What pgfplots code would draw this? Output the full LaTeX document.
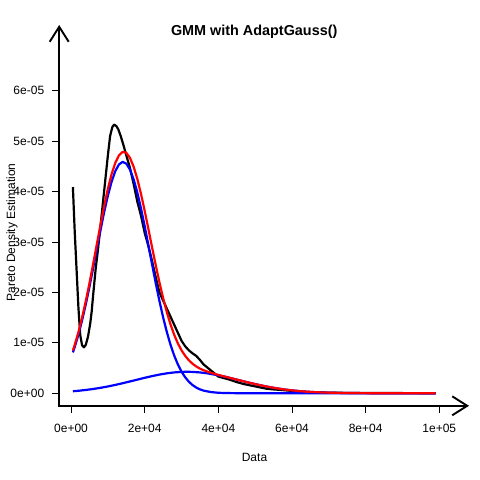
\documentclass[border=0pt]{standalone}
\usepackage{fontspec}
\setmainfont{Liberation Sans}
\usepackage{pgfplots}
\pgfplotsset{compat=1.18}
\usepackage{pgfplotstable}
\usetikzlibrary{arrows.meta}

% empirical Pareto density (black)
\pgfplotstableread{
x y
500 4.09e-5
1000 3.20e-5
1500 2.45e-5
2000 1.70e-5
2500 1.15e-5
3000 0.95e-5
3500 0.91e-5
4000 0.96e-5
4600 1.12e-5
5200 1.38e-5
5600 1.62e-5
6000 1.95e-5
6700 2.48e-5
7200 2.78e-5
8000 3.32e-5
9000 4.02e-5
10000 4.72e-5
10600 5.10e-5
11200 5.28e-5
11700 5.33e-5
12300 5.30e-5
12800 5.24e-5
13500 5.10e-5
14200 4.93e-5
15000 4.72e-5
16000 4.47e-5
17000 4.15e-5
18000 3.80e-5
19000 3.52e-5
20000 3.18e-5
21000 2.92e-5
22000 2.62e-5
23000 2.30e-5
24000 2.00e-5
25000 1.84e-5
26000 1.68e-5
27000 1.52e-5
28000 1.36e-5
29000 1.20e-5
30000 1.04e-5
31000 0.93e-5
32000 0.85e-5
33000 0.79e-5
34000 0.74e-5
35000 0.66e-5
36000 0.57e-5
37000 0.51e-5
38000 0.45e-5
39000 0.39e-5
40000 0.33e-5
41500 0.30e-5
43000 0.27e-5
45000 0.22e-5
47000 0.18e-5
49000 0.15e-5
51000 0.12e-5
53000 0.09e-5
55000 0.075e-5
57000 0.065e-5
60000 0.045e-5
63000 0.025e-5
66000 0.015e-5
70000 0.010e-5
75000 0.006e-5
80000 0.004e-5
90000 0.002e-5
99000 0.000e-5
}\pdetable

% first Gaussian component (blue)
\pgfplotstableread{
x y
500 0.809e-5
1000 0.917e-5
2000 1.162e-5
3000 1.445e-5
4000 1.763e-5
5000 2.110e-5
6000 2.480e-5
7000 2.860e-5
8000 3.237e-5
9000 3.596e-5
10000 3.920e-5
11000 4.194e-5
12000 4.404e-5
13000 4.538e-5
14000 4.590e-5
15000 4.555e-5
16000 4.437e-5
17000 4.242e-5
18000 3.980e-5
19000 3.664e-5
20000 3.311e-5
21000 2.937e-5
22000 2.556e-5
23000 2.183e-5
24000 1.830e-5
25000 1.506e-5
26000 1.216e-5
27000 0.963e-5
28000 0.749e-5
29000 0.571e-5
30000 0.428e-5
31000 0.315e-5
32000 0.227e-5
33000 0.161e-5
34000 0.112e-5
35000 0.076e-5
36000 0.051e-5
38000 0.022e-5
40000 0.0085e-5
42000 0.003e-5
45000 0.0005e-5
50000 0
99000 0
}\gaussone

% second Gaussian component (blue)
\pgfplotstableread{
x y
500 0.0385e-5
2000 0.0482e-5
4000 0.0642e-5
6000 0.0836e-5
8000 0.1068e-5
10000 0.1338e-5
12000 0.1643e-5
14000 0.1977e-5
16000 0.2331e-5
18000 0.2695e-5
20000 0.3054e-5
22000 0.3392e-5
24000 0.3693e-5
26000 0.3941e-5
28000 0.4122e-5
30000 0.4226e-5
31500 0.4250e-5
33000 0.4226e-5
35000 0.4122e-5
37000 0.3941e-5
40000 0.3548e-5
42000 0.3226e-5
44000 0.2876e-5
46000 0.2513e-5
48000 0.2152e-5
50000 0.1806e-5
52000 0.1486e-5
54000 0.1199e-5
56000 0.0948e-5
58000 0.0734e-5
60000 0.0558e-5
62000 0.0415e-5
64000 0.0303e-5
66000 0.0217e-5
68000 0.0152e-5
70000 0.0105e-5
72000 0.0070e-5
75000 0.0037e-5
80000 0.0012e-5
85000 0.0003e-5
90000 0.0001e-5
99000 0
}\gausstwo

% mixture (red)
\pgfplotstableread{
x y
500 0.848e-5
1000 0.959e-5
2000 1.210e-5
3000 1.501e-5
4000 1.827e-5
5000 2.183e-5
6000 2.564e-5
7000 2.955e-5
8000 3.344e-5
9000 3.716e-5
10000 4.054e-5
11000 4.343e-5
12000 4.568e-5
13000 4.719e-5
14000 4.788e-5
15000 4.770e-5
16000 4.670e-5
17000 4.493e-5
18000 4.250e-5
19000 3.952e-5
20000 3.616e-5
21000 3.260e-5
22000 2.895e-5
23000 2.538e-5
24000 2.199e-5
25000 1.888e-5
26000 1.610e-5
27000 1.367e-5
28000 1.161e-5
29000 0.989e-5
30000 0.851e-5
31000 0.740e-5
32000 0.652e-5
33000 0.584e-5
34000 0.530e-5
35000 0.488e-5
36000 0.455e-5
38000 0.404e-5
40000 0.363e-5
42000 0.326e-5
44000 0.288e-5
46000 0.251e-5
48000 0.215e-5
50000 0.181e-5
52000 0.149e-5
54000 0.120e-5
56000 0.095e-5
58000 0.073e-5
60000 0.056e-5
62000 0.042e-5
64000 0.030e-5
66000 0.022e-5
68000 0.015e-5
70000 0.011e-5
72000 0.007e-5
75000 0.004e-5
80000 0.001e-5
85000 0.0003e-5
90000 0.0001e-5
99000 0
}\mixture

\begin{document}
\begin{tikzpicture}
\path[use as bounding box] (0,0) rectangle (480bp,480bp);
\begin{axis}[
  at={(59.2bp,74.2bp)}, anchor=south west,
  scale only axis, width=409.8bp, height=380.8bp,
  xmin=-3218, xmax=108060,
  ymin=-0.25e-5, ymax=7.306e-5,
  axis line style={draw=none},
  xtick pos=bottom, ytick pos=left,
  tick align=outside, major tick length=7bp,
  tick style={black, line width=0.75bp},
  minor tick num=0,
  scaled ticks=false,
  xtick={0,20000,40000,60000,80000,100000},
  xticklabels={0e+00,2e+04,4e+04,6e+04,8e+04,1e+05},
  ytick={0,1e-5,2e-5,3e-5,4e-5,5e-5,6e-5},
  yticklabels={0e+00,1e-05,2e-05,3e-05,4e-05,5e-05,6e-05},
  ticklabel style={font=\fontsize{12bp}{14bp}\selectfont, text=black},
  xticklabel style={yshift=-8bp},
  yticklabel style={xshift=-4.5bp},
  clip=false,
  every axis plot/.append style={line width=2.2bp, line join=round, no markers},
]
\addplot[black] table[x=x,y=y] {\pdetable};
\addplot[blue] table[x=x,y=y] {\gaussone};
\addplot[blue] table[x=x,y=y] {\gausstwo};
\addplot[red] table[x=x,y=y] {\mixture};
\draw[line width=1.9bp, {Straight Barb[length=15bp,width=19bp]}-{Straight Barb[length=15bp,width=19bp]}]
  (rel axis cs:0,1) -- (rel axis cs:0,0) -- (rel axis cs:1,0);
\end{axis}
\node[font=\fontsize{14.4bp}{17bp}\selectfont\bfseries, anchor=base] at (254.2bp,444.7bp) {GMM with AdaptGauss()};
\node[font=\fontsize{12bp}{14bp}\selectfont, anchor=base] at (254.5bp,18.3bp) {Data};
\node[font=\fontsize{12bp}{14bp}\selectfont, anchor=base, rotate=90] at (15bp,247.5bp) {Pareto Density Estimation};
\end{tikzpicture}
\end{document}
